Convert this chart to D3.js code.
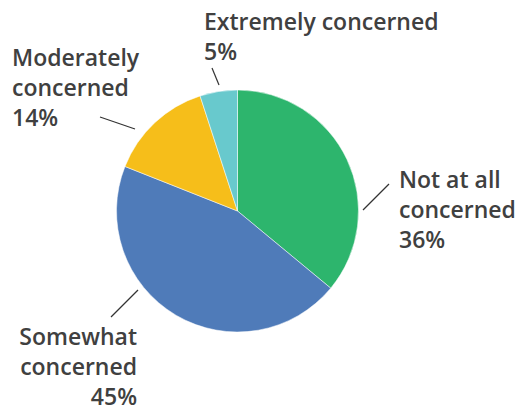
<!DOCTYPE html>
<html><head><meta charset="utf-8">
<script src="https://cdn.jsdelivr.net/npm/d3@7"></script>
<style>html,body{margin:0;padding:0;background:#fff;}svg{display:block;}</style>
</head><body>
<svg id="chart" width="518" height="411"></svg>
<script>
const categories = ["Not at all concerned", "Somewhat concerned", "Moderately concerned", "Extremely concerned"];
const values = [36, 45, 14, 5];
const colors = ["#2db56d", "#4f7bb9", "#f6be1a", "#68c9cd"];
// label text lines
const labelLines = [["Not at all", "concerned", "36%"], ["Somewhat", "concerned", "45%"], ["Moderately", "concerned", "14%"], ["Extremely concerned", "5%"]];

const W = 518, H = 411, cx = 237.5, cy = 211, R = 121;
// layout: text anchor position, alignment, leader line endpoints
const layout = [
  {x: 399, y: 188, anchor: "start", line: [[363, 210], [389, 184]]},
  {x: 137, y: 345, anchor: "end", line: [[138, 290], [111, 317]]},
  {x: 12, y: 66, anchor: "start", line: [[135, 129], [100, 117]]},
  {x: 204, y: 30, anchor: "start", line: [[219, 85], [212, 68]]}
];

const svg = d3.select("#chart");
const pie = d3.pie().sort(null).value(d => d)(values);
const arc = d3.arc().innerRadius(0).outerRadius(R);
const g = svg.append("g").attr("transform", `translate(${cx},${cy})`);
g.selectAll("path").data(pie).join("path")
  .attr("d", arc).attr("fill", (d, i) => colors[i])
  .attr("stroke", "#fff").attr("stroke-width", 0.5);

const lh = 30;
const texts = [];
layout.forEach((L, i) => {
  svg.append("line").attr("x1", L.line[0][0]).attr("y1", L.line[0][1])
    .attr("x2", L.line[1][0]).attr("y2", L.line[1][1])
    .attr("stroke", "#333").attr("stroke-width", 1.2);
  const t = svg.append("text").attr("x", L.x).attr("y", L.y)
    .attr("text-anchor", L.anchor)
    .attr("font-family", "'Open Sans', sans-serif").attr("font-size", 21.5)
    .attr("font-weight", 600)
    .attr("fill", "#404040");
  labelLines[i].forEach((s, j) => {
    t.append("tspan").attr("x", L.x).attr("y", L.y + j * lh).text(s);
  });
  texts.push(t);
});
// fit "Extremely concerned" width to reference (~237px)
const tsp = texts[3].select("tspan").node();
const w = tsp.getComputedTextLength();
const fs = 21.5 * 237 / w;
texts.forEach(t => t.attr("font-size", Math.min(fs, 23)));
</script>
</body></html>
